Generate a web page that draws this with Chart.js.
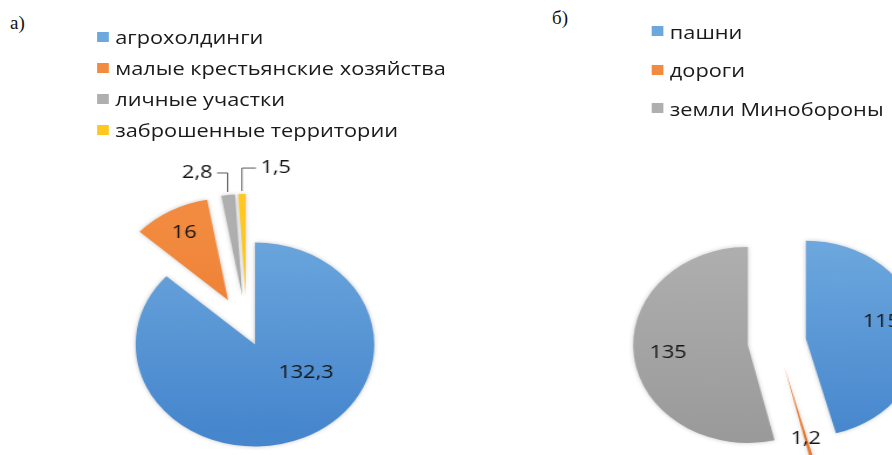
<!DOCTYPE html>
<html lang="ru">
<head>
<meta charset="utf-8">
<title>Структура земель</title>
<script src="https://cdn.jsdelivr.net/npm/chart.js@4.4.1/dist/chart.umd.min.js"></script>
<style>
  html, body { margin: 0; padding: 0; background: #fff; }
  body { width: 892px; height: 455px; overflow: hidden; position: relative; font-family: 'Open Sans', sans-serif; }
  .tag { position: absolute; font-family: 'Liberation Serif', 'Times New Roman', serif; font-size: 19px; color: #111; }
  /* the source picture is stretched sideways, so is the whole stage */
  #stage { position: absolute; left: 0; top: 0; width: 763px; height: 455px; transform: scaleX(1.17); transform-origin: 0 0; }
  .pie { position: absolute; width: 400px; height: 380px; }
  .legend { position: absolute; margin: 0; padding: 0; list-style: none; font-size: 18.6px; color: #1a1a1a; }
  .legend li { display: flex; align-items: center; white-space: nowrap; }
  .legend .box { width: 9.5px; height: 10px; margin-right: 6px; flex: none; }
</style>
</head>
<body>
<div class="tag" style="left:10px; top:12px;">а)</div>
<div class="tag" style="left:552px; top:7px;">б)</div>

<div id="stage">
  <ul class="legend" id="legendA" style="left:83px; top:21px;"></ul>
  <ul class="legend" id="legendB" style="left:557px; top:12px;"></ul>
  <div class="pie" style="left:11px; top:139px;"><canvas id="pieA"></canvas></div>
  <div class="pie" style="left:464px; top:152px;"><canvas id="pieB"></canvas></div>
</div>

<script>
// а) кто владеет землёй
const labelsA = ['агрохолдинги', 'малые крестьянские хозяйства', 'личные участки', 'заброшенные территории'];
const valuesA = [132.3, 16, 2.8, 1.5];

// б) как используется земля
const labelsB = ['пашни', 'дороги', 'земли Минобороны'];
const valuesB = [115, 1.2, 135];

// Excel-like colours: [top, bottom] of the soft gradient
const shades = {
    blue:   ['#6ca7dd', '#4686cd'],
    orange: ['#f28b3f', '#e9742b'],
    gray:   ['#afafaf', '#9a9a9a'],
    yellow: ['#ffc820', '#f5b800']
};

function gradientFill(names, radius) {
    return (c) => {
        const pair = shades[names[c.dataIndex]];
        const area = c.chart.chartArea;
        if (!area) return pair[0];
        const cy = (area.top + area.bottom) / 2;
        const g = c.chart.ctx.createLinearGradient(0, cy - radius, 0, cy + radius);
        g.addColorStop(0, pair[0]);
        g.addColorStop(1, pair[1]);
        return g;
    };
}

const commaNum = v => String(v).replace('.', ',');

// --- pull slices away from the centre, like an exploded Excel pie ---
const explodePlugin = {
    id: 'explode',
    afterDatasetUpdate(chart, args, opts) {
        const dist = opts.distances || [];
        args.meta.data.forEach((arc, i) => {
            const d = dist[i] || 0;
            const mid = (arc.startAngle + arc.endAngle) / 2;
            arc.x += Math.cos(mid) * d;
            arc.y += Math.sin(mid) * d;
        });
    }
};

// soft halo round the slices
const glowPlugin = {
    id: 'glow',
    beforeDatasetsDraw(chart) {
        const ctx = chart.ctx;
        ctx.save();
        ctx.shadowColor = 'rgba(0,0,0,0.22)';
        ctx.shadowBlur = 4;
    },
    afterDatasetsDraw(chart) {
        chart.ctx.restore();
    }
};

// --- value labels, inside or on a leader line ---
const sliceLabels = {
    id: 'sliceLabels',
    afterDatasetsDraw(chart, args, opts) {
        const ctx = chart.ctx;
        const meta = chart.getDatasetMeta(0);
        const values = chart.data.datasets[0].data;
        ctx.save();
        ctx.font = opts.font;
        ctx.fillStyle = opts.color;
        ctx.textBaseline = 'middle';
        meta.data.forEach((arc, i) => {
            const p = opts.place[i];
            const text = commaNum(values[i]);
            const mid = (arc.startAngle + arc.endAngle) / 2;
            if (p.rise) {
                const sx = arc.x + Math.cos(mid) * (arc.outerRadius + 3);
                const sy = arc.y + Math.sin(mid) * (arc.outerRadius + 3);
                const ey = sy - p.rise;
                const ex = sx + p.run;
                ctx.strokeStyle = '#595959';
                ctx.lineWidth = 1;
                ctx.beginPath();
                ctx.moveTo(sx, sy);
                ctx.lineTo(sx, ey);
                ctx.lineTo(ex, ey);
                ctx.stroke();
                ctx.textAlign = p.run < 0 ? 'right' : 'left';
                ctx.fillText(text, ex + Math.sign(p.run) * 4, ey);
            } else {
                const a = mid + (p.turn || 0) * Math.PI / 180;
                const r = arc.outerRadius * p.r;
                ctx.textAlign = 'center';
                ctx.fillText(text, arc.x + Math.cos(a) * r, arc.y + Math.sin(a) * r);
            }
        });
        ctx.restore();
    }
};

function buildLegend(chart, listId) {
    const ul = document.getElementById(listId);
    const items = Chart.overrides.pie.plugins.legend.labels.generateLabels(chart);
    const colours = chart.options.plugins.legendColours;
    items.forEach((item, i) => {
        const li = document.createElement('li');
        li.style.height = chart.options.plugins.legendRow + 'px';
        li.innerHTML = `<span class="box" style="background:${colours[i]}"></span><span>${item.text}</span>`;
        ul.appendChild(li);
    });
}

function makePie(canvasId, labels, values, names, radius, opts) {
    const ctx = document.getElementById(canvasId).getContext('2d');
    return new Chart(ctx, {
        type: 'pie',
        data: {
            labels: labels,
            datasets: [{
                data: values,
                backgroundColor: gradientFill(names, radius),
                borderWidth: 0
            }]
        },
        options: {
            responsive: true,
            maintainAspectRatio: false,
            animation: false,
            radius: radius,
            layout: { padding: 0 },
            plugins: {
                legend: { display: false },
                tooltip: { enabled: false },
                explode: { distances: opts.explode },
                sliceLabels: {
                    font: "18.5px 'Open Sans', sans-serif",
                    color: '#141414',
                    place: opts.place
                },
                legendColours: names.map(n => shades[n][0]),
                legendRow: opts.row
            }
        },
        plugins: [explodePlugin, glowPlugin, sliceLabels]
    });
}

const chartA = makePie('pieA', labelsA, valuesA, ['blue', 'orange', 'gray', 'yellow'], 102, {
    explode: [17, 33, 33, 33],
    place: [{ r: 0.51, turn: -33 }, { r: 0.76 }, { rise: 19, run: -9 }, { rise: 23, run: 12 }],
    row: 31
});

const chartB = makePie('pieB', labelsB, valuesB, ['blue', 'orange', 'gray'], 98, {
    explode: [25, 25, 25],
    place: [{ r: 0.68, turn: -7 }, { r: 0.76 }, { r: 0.7 }],
    row: 38.5
});

buildLegend(chartA, 'legendA');
buildLegend(chartB, 'legendB');
</script>
</body>
</html>
